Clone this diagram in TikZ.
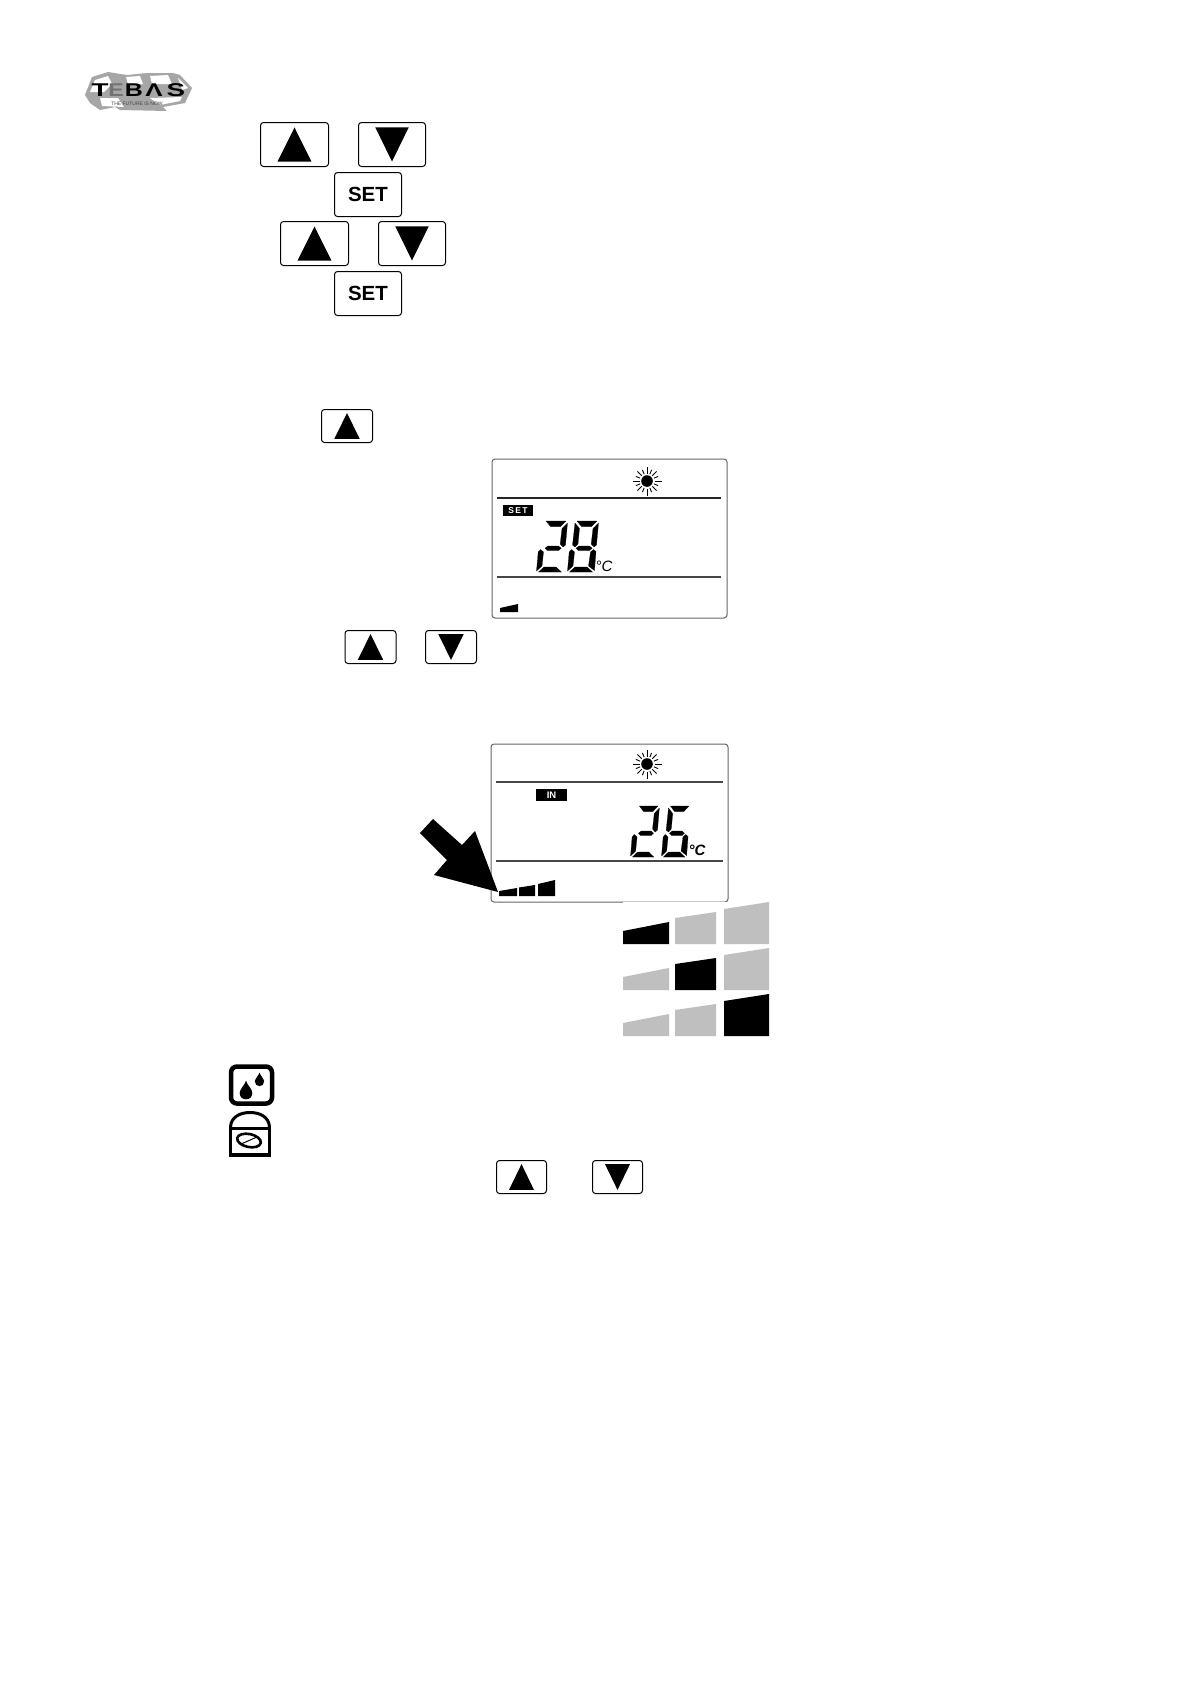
\documentclass[tikz,border=0pt]{standalone}
\usepackage{fontspec}
\setmainfont{Liberation Sans}
\newcommand{\segA}{(9,0)--(29,0)--(23.5,5.5)--(13.5,5.5)--cycle}
\newcommand{\segB}{(30.5,2)--(28.5,24)--(26,26)--(23.2,23)--(25,7.5)--cycle}
\newcommand{\segC}{(25.5,28.5)--(28,30.5)--(26.5,49.5)--(20.5,45)--(22.5,31)--cycle}
\newcommand{\segD}{(1.5,51)--(7,46)--(19,46)--(24.5,51)--cycle}
\newcommand{\segE}{(3.5,28.5)--(6.5,31)--(5,45)--(-.5,50)--(1.2,31)--cycle}
\newcommand{\segF}{(7,2)--(11.5,7.5)--(10,23)--(7,26)--(4.5,24)--cycle}
\newcommand{\segG}{(8,27.2)--(11,25)--(21.5,25)--(24.2,27.2)--(21.5,29.6)--(10.5,29.6)--cycle}
\newcommand{\keyup}[4]{%
  \node[keybtn,minimum width=#3-1,minimum height=#4-1] (#1) at (#2) {};
  \fill[black] ($(#1)+(0,{-0.378*#4})$) -- ($(#1)+({0.245*#3},{0.378*#4})$) -- ($(#1)+({-0.245*#3},{0.378*#4})$) -- cycle;}
\newcommand{\keydown}[4]{%
  \node[keybtn,minimum width=#3-1,minimum height=#4-1] (#1) at (#2) {};
  \fill[black] ($(#1)+(0,{0.378*#4})$) -- ($(#1)+({0.245*#3},{-0.378*#4})$) -- ($(#1)+({-0.245*#3},{-0.378*#4})$) -- cycle;}
\newcommand{\sunicon}[2]{%
  \begin{scope}[shift={(#1,#2)}]
    \fill circle (5.8);
    \foreach \a in {0,90,180,270} \draw[line width=1] (\a:7.5) -- (\a:14.5);
    \foreach \a in {45,135,225,315} \draw[line width=1] (\a:7.5) -- (\a:13.5);
    \foreach \a in {22.5,67.5,112.5,157.5,202.5,247.5,292.5,337.5} \draw[line width=.9] (\a:7.5) -- (\a:12);
  \end{scope}}
\newcommand{\dropicon}[3]{%
  \fill[shift={(#1,#2)},scale=#3] (0,-1.95) .. controls (.25,-1.2) and (1,-.6) .. (1,0) .. controls (1,.6) and (.6,1) .. (0,1) .. controls (-.6,1) and (-1,.6) .. (-1,0) .. controls (-1,-.6) and (-.25,-1.2) .. (0,-1.95) -- cycle;}
\tikzset{
  keybtn/.style={draw=black,fill=white,line width=1,rounded corners=3,inner sep=0},
  lcdframe/.style={draw=black!60,fill=white,line width=1,rounded corners=3,inner sep=0},
  lcdrule/.style={line width=1.6,draw=black!72},
  settext/.style={font=\bfseries\fontsize{20.5}{24}\selectfont,inner sep=0},
  tagbox/.style={fill=black,text=white,font=\bfseries\fontsize{9.5}{10}\selectfont,inner sep=0,align=center},
  degc/.style={font=\itshape\fontsize{15}{16}\selectfont,inner sep=0},
  lcdseg/.style={fill=black,draw=black,line width=.2,line join=round},
  logoletter/.style={font=\bfseries\fontsize{18.5}{20}\selectfont,inner sep=0,transform shape},
}
\usetikzlibrary{calc}
\begin{document}
\begin{tikzpicture}[x=1pt,y=-1pt]
\useasboundingbox (0,0) rectangle (1190,1684);
\fill[white] (0,0) rectangle (1190,1684);
% logo
\fill[black!35] (85,95)--(92,77)--(108,72)--(127,75)--(147,73)--(173,73)--(180,75)--(192,88)--(185,103)--(163,107)--(167,111)--(120,110)--(115,107)--(100,110)--(90,103)--cycle;
\fill[white] (90,92)--(95,80)--(108,76)--(112,84)--(104,92)--cycle;
\fill[white] (126,77)--(140,76)--(143,84)--(128,84)--cycle;
\fill[white] (150,76)--(168,75)--(172,84)--(152,84)--cycle;
\fill[white] (100,98)--(118,98)--(124,107)--(102,106)--cycle;
\fill[white] (150,98)--(182,97)--(180,101)--(160,105)--cycle;
\fill[white] (178,78)--(188,88)--(182,90)--cycle;
\node[logoletter,xscale=1.5] (logoT) at (100,90.5) {T};
\node[logoletter,xscale=1.25,text=black!55] (logoE) at (116,90.5) {E};
\node[logoletter,xscale=1.35] (logoB) at (134,90.5) {B};
\node[logoletter,xscale=1.4] (logoA) at (154,90.5) {Λ};
\node[logoletter,xscale=1.5] (logoS) at (176,90.5) {S};
\node[font=\fontsize{5}{5}\selectfont,text=black!75,inner sep=0] (logoTag) at (137,104) {THE FUTURE IS NOW};
% first key group
\keyup{up1}{294.5,144.5}{69}{45}
\keydown{down1}{392,144.5}{68}{45}
\node[keybtn,minimum width=67,minimum height=44,settext] (set1) at (368,194.5) {SET};
\keyup{up2}{314.5,243.5}{69}{45}
\keydown{down2}{412,243.5}{68}{45}
\node[keybtn,minimum width=67,minimum height=44,settext] (set2) at (368,293.5) {SET};
\keyup{up3}{347,426}{52}{34}
% LCD 1
\node[lcdframe,minimum width=235,minimum height=159] (lcdA) at (609.5,538.5) {};
\sunicon{647}{481}
\draw[lcdrule,draw=black!85] (497,498) -- (721,498);
\draw[lcdrule] (497,577) -- (721,577);
\node[tagbox,minimum width=30,minimum height=11,font=\bfseries\fontsize{8.5}{10}\selectfont] (tagA) at (518,510.5) {S\,E\,T};
\path[lcdseg,shift={(537,521)}] \segA \segB \segG \segE \segD;
\path[lcdseg,shift={(568,521)}] \segA \segB \segC \segD \segE \segF \segG;
\node[degc] (degA) at (604,566) {°C};
\fill (500,612) -- (500,608) -- (518,604) -- (518,612) -- cycle;
\keyup{up4}{370.5,647}{52}{34}
\keydown{down4}{451,647}{52}{34}
% LCD 2
\node[lcdframe,minimum width=237,minimum height=158] (lcdB) at (609.5,823) {};
\sunicon{647}{764}
\draw[lcdrule] (496,782) -- (723,782);
\draw[lcdrule] (496,861) -- (723,861);
\node[tagbox,minimum width=31,minimum height=12] (tagB) at (551.5,795) {IN};
\path[lcdseg,shift={(631,806)},xscale=.93] \segA \segB \segG \segE \segD;
\path[lcdseg,shift={(662,806)},xscale=.93] \segA \segF \segG \segE \segC \segD;
\node[degc,font=\bfseries\itshape\fontsize{15}{16}\selectfont] (degB) at (697,850) {°C};
\fill (499,896) -- (499,891) -- (517,888) -- (517,896) -- cycle;
\fill (519,896) -- (519,887.5) -- (535,885) -- (535,896) -- cycle;
\fill (538,896) -- (538,884) -- (555,880) -- (555,896) -- cycle;
% arrow
\fill (433,819)--(420,833)--(447,860)--(434,875)--(498,892)--(475,831)--(462,845)--cycle;
% white mask and bar grid
\fill[white] (623,901.6) rectangle (769,945);
\foreach \dy/\ca/\cb/\cc in {0/black/black!25/black!25,46/black!25/black/black!25,92/black!25/black!25/black}{
  \fill[\ca] (623,{944+\dy}) -- (623,{931+\dy}) -- (669,{922+\dy}) -- (669,{944+\dy}) -- cycle;
  \fill[\cb] (675,{944+\dy}) -- (675,{918+\dy}) -- (716,{912+\dy}) -- (716,{944+\dy}) -- cycle;
  \fill[\cc] (724,{944+\dy}) -- (724,{909+\dy}) -- (769,{902+\dy}) -- (769,{944+\dy}) -- cycle;
}
% icons
\node[draw=black,line width=4.5,rounded corners=6,minimum width=41,minimum height=37,inner sep=0] (dropbox) at (251.5,1085) {};
\dropicon{246}{1093}{6.3}
\dropicon{259.5}{1081.5}{4.6}
\node[draw=black,line width=3,minimum width=39,minimum height=26,inner sep=0] (meterbox) at (250,1141) {};
\draw[line width=4] (229,1154.5) -- (271,1154.5);
\draw[line width=3] (230.5,1127) .. controls (231,1117) and (240,1112.5) .. (250,1112.5) .. controls (260,1112.5) and (269,1117) .. (269.5,1127);
\draw[line width=2.6,rotate around={-12:(249,1140.5)}] (249,1140.5) ellipse (12 and 6.5);
\draw[line width=1] (241,1144) -- (257,1137);
% last keys
\keyup{up5}{521.5,1177}{51}{34}
\keydown{down5}{617.5,1177}{51}{34}
\end{tikzpicture}
\end{document}
